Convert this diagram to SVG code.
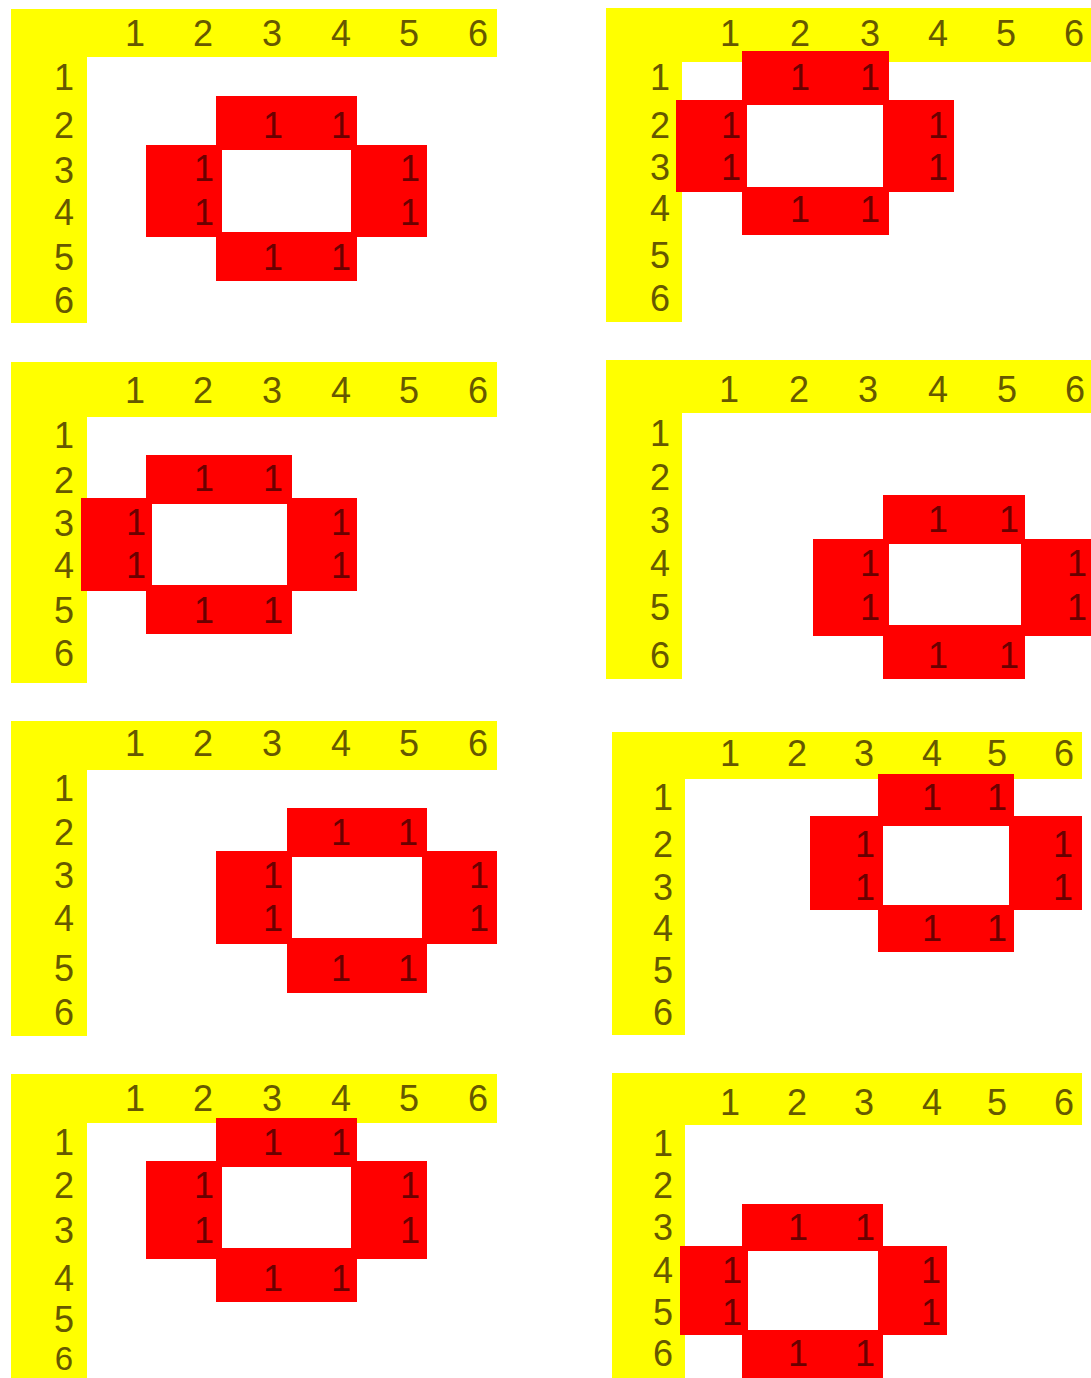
<svg xmlns="http://www.w3.org/2000/svg" width="1091" height="1378" viewBox="0 0 1091 1378">
<style>
.y{fill:#ffff00}
.r{fill:#ff0000}
text{font-family:"Liberation Sans",Arial,sans-serif;font-size:36px;text-anchor:middle}
.h{fill:#665800}
.o{fill:#6a0000}
</style>
<rect width="1091" height="1378" fill="#ffffff"/>
<g id="panel1">
<rect class="y" x="11" y="9" width="486" height="48"/><rect class="y" x="11" y="9" width="76" height="314"/>
<g class="h"><text x="135" y="46">1</text><text x="203" y="46">2</text><text x="272" y="46">3</text><text x="341" y="46">4</text><text x="409" y="46">5</text><text x="478" y="46">6</text>
<text x="64" y="90">1</text><text x="64" y="138">2</text><text x="64" y="183">3</text><text x="64" y="225">4</text><text x="64" y="270">5</text><text x="64" y="313">6</text></g>
<rect class="r" x="216" y="96" width="141" height="54"/><rect class="r" x="146" y="145" width="76" height="92"/><rect class="r" x="351" y="145" width="76" height="92"/><rect class="r" x="216" y="232" width="141" height="49"/>
<g class="o"><text x="273" y="138">1</text><text x="341" y="138">1</text><text x="204" y="181">1</text><text x="204" y="225">1</text><text x="410" y="181">1</text><text x="410" y="225">1</text><text x="273" y="270">1</text><text x="341" y="270">1</text></g>
</g>
<g id="panel2">
<rect class="y" x="606" y="8" width="485" height="54"/><rect class="y" x="606" y="8" width="76" height="314"/>
<g class="h"><text x="730" y="46">1</text><text x="800" y="46">2</text><text x="870" y="46">3</text><text x="938" y="46">4</text><text x="1006" y="46">5</text><text x="1074" y="46">6</text>
<text x="660" y="90">1</text><text x="660" y="138">2</text><text x="660" y="180">3</text><text x="660" y="221">4</text><text x="660" y="268">5</text><text x="660" y="311">6</text></g>
<rect class="r" x="742" y="51" width="147" height="54"/><rect class="r" x="676" y="100" width="71" height="92"/><rect class="r" x="883" y="100" width="71" height="92"/><rect class="r" x="742" y="187" width="147" height="48"/>
<g class="o"><text x="800" y="90">1</text><text x="870" y="90">1</text><text x="731" y="138">1</text><text x="731" y="180">1</text><text x="938" y="138">1</text><text x="938" y="180">1</text><text x="800" y="222">1</text><text x="870" y="222">1</text></g>
</g>
<g id="panel3">
<rect class="y" x="11" y="362" width="486" height="55"/><rect class="y" x="11" y="362" width="76" height="321"/>
<g class="h"><text x="135" y="403">1</text><text x="203" y="403">2</text><text x="272" y="403">3</text><text x="341" y="403">4</text><text x="409" y="403">5</text><text x="478" y="403">6</text>
<text x="64" y="448">1</text><text x="64" y="493">2</text><text x="64" y="536">3</text><text x="64" y="578">4</text><text x="64" y="623">5</text><text x="64" y="666">6</text></g>
<rect class="r" x="146" y="455" width="146" height="49"/><rect class="r" x="81" y="498" width="71" height="93"/><rect class="r" x="287" y="498" width="70" height="93"/><rect class="r" x="146" y="585" width="146" height="49"/>
<g class="o"><text x="204" y="491">1</text><text x="273" y="491">1</text><text x="136" y="535">1</text><text x="136" y="578">1</text><text x="341" y="535">1</text><text x="341" y="578">1</text><text x="204" y="623">1</text><text x="273" y="623">1</text></g>
</g>
<g id="panel4">
<rect class="y" x="606" y="360" width="485" height="53"/><rect class="y" x="606" y="360" width="76" height="319"/>
<g class="h"><text x="729" y="402">1</text><text x="799" y="402">2</text><text x="868" y="402">3</text><text x="938" y="402">4</text><text x="1007" y="402">5</text><text x="1075" y="402">6</text>
<text x="660" y="446">1</text><text x="660" y="490">2</text><text x="660" y="533">3</text><text x="660" y="576">4</text><text x="660" y="620">5</text><text x="660" y="668">6</text></g>
<rect class="r" x="883" y="495" width="142" height="49"/><rect class="r" x="813" y="539" width="76" height="97"/><rect class="r" x="1021" y="539" width="70" height="97"/><rect class="r" x="883" y="625" width="142" height="54"/>
<g class="o"><text x="938" y="532">1</text><text x="1009" y="532">1</text><text x="870" y="576">1</text><text x="870" y="620">1</text><text x="1077" y="576">1</text><text x="1077" y="620">1</text><text x="938" y="668">1</text><text x="1009" y="668">1</text></g>
</g>
<g id="panel5">
<rect class="y" x="11" y="721" width="486" height="49"/><rect class="y" x="11" y="721" width="76" height="315"/>
<g class="h"><text x="135" y="756">1</text><text x="203" y="756">2</text><text x="272" y="756">3</text><text x="341" y="756">4</text><text x="409" y="756">5</text><text x="478" y="756">6</text>
<text x="64" y="801">1</text><text x="64" y="845">2</text><text x="64" y="888">3</text><text x="64" y="931">4</text><text x="64" y="981">5</text><text x="64" y="1025">6</text></g>
<rect class="r" x="287" y="808" width="140" height="49"/><rect class="r" x="216" y="851" width="76" height="93"/><rect class="r" x="422" y="851" width="75" height="93"/><rect class="r" x="287" y="938" width="140" height="55"/>
<g class="o"><text x="341" y="845">1</text><text x="408" y="845">1</text><text x="273" y="888">1</text><text x="273" y="931">1</text><text x="479" y="888">1</text><text x="479" y="931">1</text><text x="341" y="981">1</text><text x="408" y="981">1</text></g>
</g>
<g id="panel6">
<rect class="y" x="612" y="732" width="470" height="47"/><rect class="y" x="612" y="732" width="73" height="303"/>
<g class="h"><text x="730" y="766">1</text><text x="797" y="766">2</text><text x="864" y="766">3</text><text x="932" y="766">4</text><text x="997" y="766">5</text><text x="1064" y="766">6</text>
<text x="663" y="810">1</text><text x="663" y="857">2</text><text x="663" y="900">3</text><text x="663" y="941">4</text><text x="663" y="983">5</text><text x="663" y="1025">6</text></g>
<rect class="r" x="878" y="774" width="136" height="52"/><rect class="r" x="810" y="816" width="73" height="94"/><rect class="r" x="1009" y="816" width="73" height="94"/><rect class="r" x="878" y="905" width="136" height="47"/>
<g class="o"><text x="932" y="810">1</text><text x="997" y="810">1</text><text x="865" y="857">1</text><text x="865" y="900">1</text><text x="1063" y="857">1</text><text x="1063" y="900">1</text><text x="932" y="941">1</text><text x="997" y="941">1</text></g>
</g>
<g id="panel7">
<rect class="y" x="11" y="1074" width="486" height="49"/><rect class="y" x="11" y="1074" width="76" height="304"/>
<g class="h"><text x="135" y="1111">1</text><text x="203" y="1111">2</text><text x="272" y="1111">3</text><text x="341" y="1111">4</text><text x="409" y="1111">5</text><text x="478" y="1111">6</text>
<text x="64" y="1155">1</text><text x="64" y="1198">2</text><text x="64" y="1243">3</text><text x="64" y="1291">4</text><text x="64" y="1332">5</text><text x="64" y="1370" style="font-size:33px">6</text></g>
<rect class="r" x="216" y="1118" width="141" height="49"/><rect class="r" x="146" y="1161" width="76" height="98"/><rect class="r" x="351" y="1161" width="76" height="98"/><rect class="r" x="216" y="1248" width="141" height="54"/>
<g class="o"><text x="273" y="1155">1</text><text x="341" y="1155">1</text><text x="204" y="1198">1</text><text x="204" y="1243">1</text><text x="410" y="1198">1</text><text x="410" y="1243">1</text><text x="273" y="1291">1</text><text x="341" y="1291">1</text></g>
</g>
<g id="panel8">
<rect class="y" x="612" y="1073" width="470" height="52"/><rect class="y" x="612" y="1073" width="73" height="305"/>
<g class="h"><text x="730" y="1115">1</text><text x="797" y="1115">2</text><text x="864" y="1115">3</text><text x="932" y="1115">4</text><text x="997" y="1115">5</text><text x="1064" y="1115">6</text>
<text x="663" y="1156">1</text><text x="663" y="1198">2</text><text x="663" y="1240">3</text><text x="663" y="1283">4</text><text x="663" y="1325">5</text><text x="663" y="1366">6</text></g>
<rect class="r" x="742" y="1204" width="141" height="47"/><rect class="r" x="680" y="1246" width="68" height="89"/><rect class="r" x="878" y="1246" width="69" height="89"/><rect class="r" x="742" y="1330" width="141" height="48"/>
<g class="o"><text x="798" y="1240">1</text><text x="865" y="1240">1</text><text x="732" y="1283">1</text><text x="732" y="1325">1</text><text x="931" y="1283">1</text><text x="931" y="1325">1</text><text x="798" y="1366">1</text><text x="865" y="1366">1</text></g>
</g>
<g id="connectors"/>
</svg>
